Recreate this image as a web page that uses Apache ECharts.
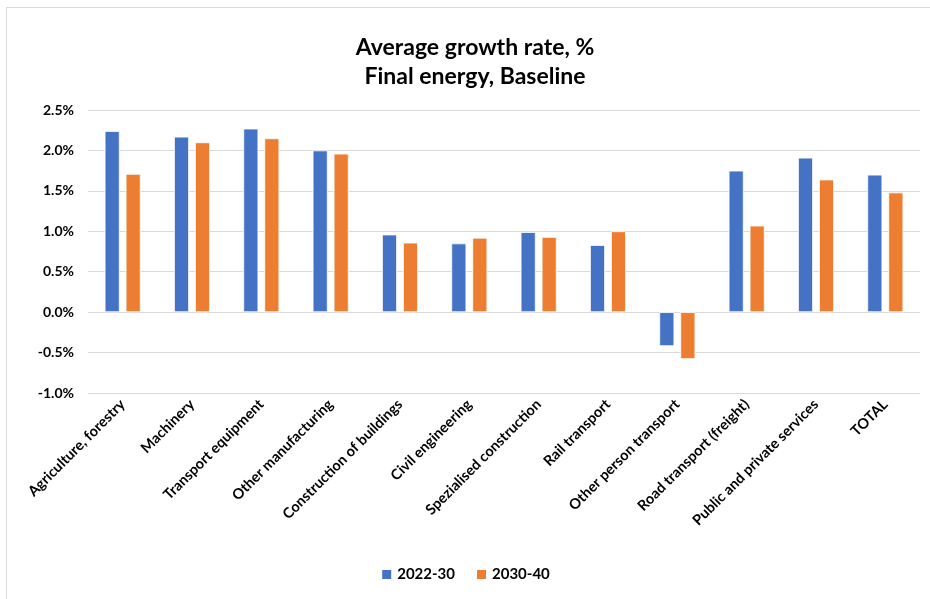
<!DOCTYPE html>
<html><head><meta charset="utf-8">
<script src="https://cdn.jsdelivr.net/npm/echarts@6/dist/echarts.min.js"></script>
<style>
html,body{margin:0;padding:0;background:#fff;}
#frame{position:absolute;left:6px;top:7px;width:940px;height:600px;border:1px solid #d9d9d9;}
#c{position:absolute;left:0;top:0;width:930px;height:599px;}
</style></head>
<body>
<div id="frame"></div>
<div id="c"></div>
<script>
const categories = ["Agriculture, forestry","Machinery","Transport equipment","Other manufacturing","Construction of buildings","Civil engineering","Spezialised construction","Rail transport","Other person transport","Road transport (freight)","Public and private services","TOTAL"];
const series2022_30 = [2.24,2.17,2.27,2.00,0.96,0.85,0.99,0.83,-0.42,1.75,1.91,1.70];
const series2030_40 = [1.71,2.10,2.15,1.96,0.86,0.92,0.93,1.00,-0.58,1.07,1.64,1.48];
const seriesNames = ["2022-30","2030-40"];
const FONT = "Lato";
const chart = echarts.init(document.getElementById('c'));
chart.setOption({
  animation:false,
  title:{text:"Average growth rate, %\nFinal energy, Baseline",left:470,top:28,textAlign:'center',
    textStyle:{fontFamily:FONT,fontSize:23,fontWeight:'bold',color:'#000',lineHeight:29}},
  legend:{bottom:12,left:'center',itemWidth:11,itemHeight:11,itemGap:20,icon:'rect',
    textStyle:{fontFamily:FONT,fontSize:15,fontWeight:'bold',color:'#000'},data:seriesNames},
  grid:{left:88,right:10,top:110,bottom:206,containLabel:false},
  xAxis:{type:'category',data:categories,
    axisLine:{show:false},axisTick:{show:false},
    axisLabel:{interval:0,rotate:45,fontFamily:FONT,fontSize:14.5,fontWeight:'bold',color:'#000',margin:9}},
  yAxis:{type:'value',min:-1,max:2.5,interval:0.5,
    axisLine:{show:false},axisTick:{show:false},
    splitLine:{lineStyle:{color:'#d9d9d9',width:1}},
    axisLabel:{formatter:v=>v.toFixed(1)+'%',fontFamily:FONT,fontSize:14,fontWeight:'bold',color:'#000',margin:14}},
  series:[
    {name:seriesNames[0],type:'bar',data:series2022_30,barWidth:15,barGap:'40%',
      itemStyle:{color:'#4472C4',borderColor:'#fff',borderWidth:0.8}},
    {name:seriesNames[1],type:'bar',data:series2030_40,barWidth:15,barGap:'40%',
      itemStyle:{color:'#ED7D31',borderColor:'#fff',borderWidth:0.8}}
  ]
});
</script>
</body></html>
